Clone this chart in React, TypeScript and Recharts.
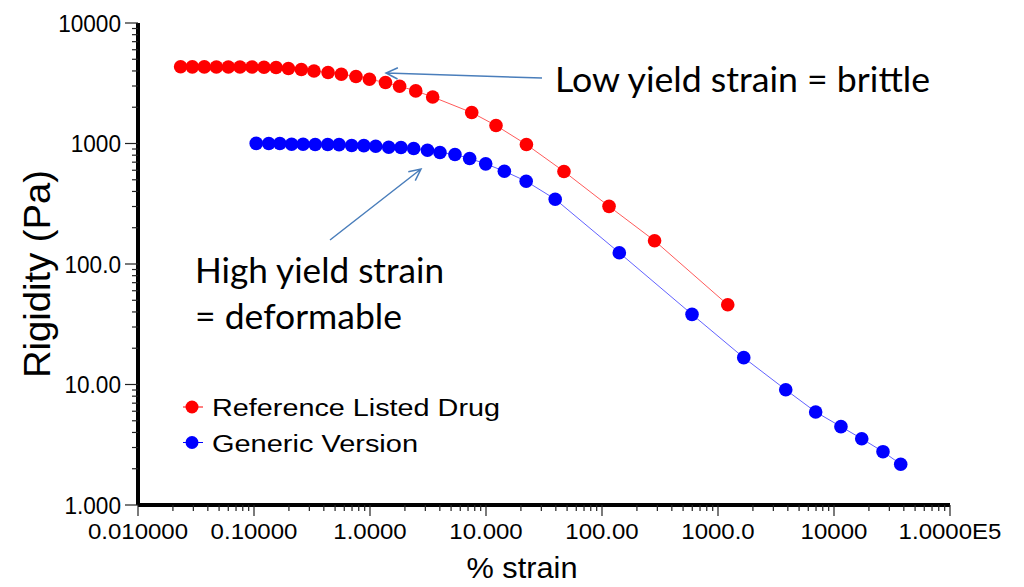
import React from "react";
import { ScatterChart, Scatter, XAxis, YAxis } from "recharts";

// ---- data ----
const seriesNames = ["Reference Listed Drug", "Generic Version"];

const refStrain = [
  0.0233, 0.0294, 0.0373, 0.0474, 0.0601, 0.0757, 0.0961, 0.122, 0.155, 0.198,
  0.256, 0.329, 0.435, 0.566, 0.757, 0.989, 1.36, 1.8, 2.48, 3.47,
  7.53, 12.2, 22.3, 47.0, 115, 284, 1213,
];
const refRigidity = [
  4330, 4325, 4320, 4318, 4315, 4312, 4310, 4293, 4270, 4188,
  4110, 4000, 3880, 3758, 3596, 3415, 3206, 2988, 2731, 2434,
  1806, 1410, 981, 586, 301, 156, 45.9,
];

const genStrain = [
  0.1045, 0.134, 0.167, 0.211, 0.265, 0.337, 0.432, 0.541, 0.695, 0.885,
  1.12, 1.45, 1.85, 2.38, 3.13, 4.01, 5.4, 7.23, 9.94, 14.4,
  22.2, 39.5, 141, 597, 1667, 3837, 6950, 11480, 17340, 26440, 37580,
];
const genRigidity = [
  1002, 1001, 1000, 986, 985, 981, 980, 979, 962, 960,
  950, 931, 926, 909, 880, 841, 811, 751, 678, 589,
  486, 345, 124, 38.2, 16.7, 9.05, 5.92, 4.47, 3.55, 2.77, 2.18,
];

const xMajorTicks = [0.01, 0.1, 1, 10, 100, 1000, 10000, 100000];
const xMajorLabels = ["0.010000", "0.10000", "1.0000", "10.000", "100.00", "1000.0", "10000", "1.0000E5"];
const yMajorTicks = [1, 10, 100, 1000, 10000];
const yMajorLabels = ["1.000", "10.00", "100.0", "1000", "10000"];

// ---- derived tables ----
const refData = refStrain.map((x, i) => ({ x, y: refRigidity[i] }));
const genData = genStrain.map((x, i) => ({ x, y: genRigidity[i] }));

const minorOf = (majors: number[]) => {
  const out: number[] = [];
  for (let i = 0; i < majors.length - 1; i++) {
    for (let m = 2; m <= 9; m++) out.push(majors[i] * m);
  }
  return out;
};
const xTicks = [...xMajorTicks, ...minorOf(xMajorTicks)].sort((a, b) => a - b);
const yTicks = [...yMajorTicks, ...minorOf(yMajorTicks)].sort((a, b) => a - b);

const majorIndex = (list: number[], v: number) =>
  list.findIndex((m) => Math.abs(Math.log10(m) - Math.log10(v)) < 1e-6);

const ARIAL = "'Liberation Sans', Arial, sans-serif";
const CALIBRI = "Lato, 'Open Sans', sans-serif";

const emWidth = (s: string) => {
  let w = 0;
  for (const c of s) {
    if (c === ".") w += 0.278;
    else if (c === "E") w += 0.667;
    else w += 0.556;
  }
  return w;
};

const XTick = (props: any) => {
  const { x, y, payload } = props;
  const idx = majorIndex(xMajorTicks, payload.value);
  const major = idx >= 0;
  return (
    <g>
      <line x1={x} x2={x} y1={y} y2={y + (major ? 11 : 6)} stroke="#222" strokeWidth={1.2} />
      {major && (
        <text
          x={x}
          y={y + 34}
          textAnchor="middle"
          fontFamily={ARIAL}
          fontSize={22.5}
          fill="#000"
          textLength={emWidth(xMajorLabels[idx]) * 24}
          lengthAdjust="spacingAndGlyphs"
        >
          {xMajorLabels[idx]}
        </text>
      )}
    </g>
  );
};

const YTick = (props: any) => {
  const { x, y, payload } = props;
  const idx = majorIndex(yMajorTicks, payload.value);
  const major = idx >= 0;
  return (
    <g>
      <line x1={x - (major ? 13 : 6)} x2={x} y1={y} y2={y} stroke="#222" strokeWidth={1.2} />
      {major && (
        <text
          x={x - 17}
          y={y + 8.5}
          textAnchor="end"
          fontFamily={ARIAL}
          fontSize={23}
          fill="#000"
          textLength={emWidth(yMajorLabels[idx]) * 22.6}
          lengthAdjust="spacingAndGlyphs"
        >
          {yMajorLabels[idx]}
        </text>
      )}
    </g>
  );
};

const dot = (color: string) => (p: any) => <circle cx={p.cx} cy={p.cy} r={6.8} fill={color} />;

const legendColors = ["#ff0000", "#0000ff"];
const legendLens = [288, 206];

const arrowPath = (x1: number, y1: number, x2: number, y2: number, len = 13, ang = 0.45) => {
  const a = Math.atan2(y2 - y1, x2 - x1);
  const w1x = x2 - len * Math.cos(a - ang);
  const w1y = y2 - len * Math.sin(a - ang);
  const w2x = x2 - len * Math.cos(a + ang);
  const w2y = y2 - len * Math.sin(a + ang);
  return `M${x1},${y1} L${x2},${y2} M${w1x},${w1y} L${x2},${y2} L${w2x},${w2y}`;
};

export default function App() {
  return (
    <div style={{ position: "absolute", left: 0, top: 0, width: 1024, height: 587, background: "#fff" }}>
      <ScatterChart width={1024} height={587} margin={{ top: 23, right: 74, bottom: 0, left: 0 }}>
        <XAxis
          dataKey="x"
          type="number"
          scale="log"
          domain={[0.01, 100000]}
          allowDataOverflow
          ticks={xTicks}
          interval={0}
          tick={<XTick />}
          tickLine={false}
          tickSize={0}
          tickMargin={0}
          height={82}
          axisLine={{ stroke: "#000", strokeWidth: 4 }}
        />
        <YAxis
          dataKey="y"
          type="number"
          scale="log"
          domain={[1, 10000]}
          allowDataOverflow
          ticks={yTicks}
          interval={0}
          tick={<YTick />}
          tickLine={false}
          tickSize={0}
          tickMargin={0}
          width={138}
          axisLine={{ stroke: "#000", strokeWidth: 4 }}
        />
        <Scatter
          name={seriesNames[1]}
          data={genData}
          fill="#0000ff"
          line={{ stroke: "#6262ff", strokeWidth: 1 }}
          lineType="joint"
          shape={dot("#0000ff")}
          isAnimationActive={false}
        />
        <Scatter
          name={seriesNames[0]}
          data={refData}
          fill="#ff0000"
          line={{ stroke: "#ff5a5a", strokeWidth: 1 }}
          lineType="joint"
          shape={dot("#ff0000")}
          isAnimationActive={false}
        />
      </ScatterChart>
      <svg
        width={1024}
        height={587}
        style={{ position: "absolute", left: 0, top: 0, pointerEvents: "none" }}
      >
        {seriesNames.map((name, i) => (
          <g key={name} transform={`translate(180, ${392 + i * 35.5})`}>
            <line x1={3} x2={23} y1={15} y2={15} stroke={legendColors[i]} strokeWidth={1} />
            <circle cx={12} cy={15} r={6.5} fill={legendColors[i]} />
            <text
              x={32}
              y={24}
              fontFamily={ARIAL}
              fontSize={23}
              fill="#000"
              textLength={legendLens[i]}
              lengthAdjust="spacingAndGlyphs"
            >
              {name}
            </text>
          </g>
        ))}
        <text
          transform="rotate(-90, 50, 274)"
          x={50}
          y={274}
          textAnchor="middle"
          fontFamily={ARIAL}
          fontSize={36}
          textLength={208}
          lengthAdjust="spacingAndGlyphs"
          fill="#000"
        >
          Rigidity (Pa)
        </text>
        <text
          x={522}
          y={578}
          textAnchor="middle"
          fontFamily={ARIAL}
          fontSize={29}
          textLength={111}
          lengthAdjust="spacingAndGlyphs"
          fill="#000"
        >
          % strain
        </text>
        <text x={555} y={92} fontFamily={CALIBRI} fontSize={35} textLength={375} lengthAdjust="spacingAndGlyphs" fill="#000">
          Low yield strain = brittle
        </text>
        <text x={195} y={283} fontFamily={CALIBRI} fontSize={35} textLength={249} lengthAdjust="spacingAndGlyphs" fill="#000">
          High yield strain
        </text>
        <text x={195} y={329} fontFamily={CALIBRI} fontSize={35} textLength={207} lengthAdjust="spacingAndGlyphs" fill="#000">
          = deformable
        </text>
        <path d={arrowPath(542, 78, 386, 73)} stroke="#4a7ebb" strokeWidth={1.5} fill="none" />
        <path d={arrowPath(330, 240, 421, 169)} stroke="#4a7ebb" strokeWidth={1.5} fill="none" />
      </svg>
    </div>
  );
}
